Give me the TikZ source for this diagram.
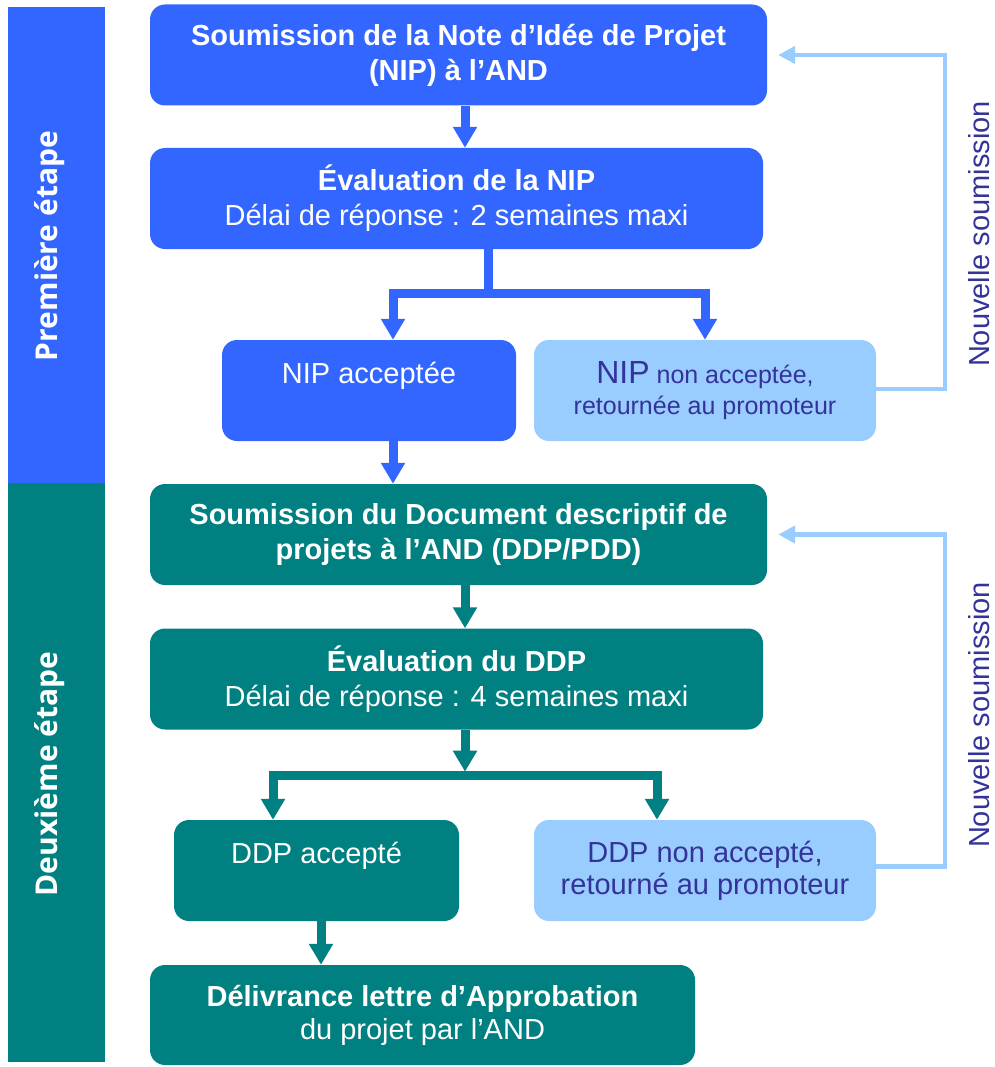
\documentclass[tikz,border=0pt]{standalone}
\usepackage{fontspec}
\setmainfont{Liberation Sans}
\newfontfamily\sidefont{Open Sans}
\usetikzlibrary{arrows.meta,calc}
\definecolor{cblue}{HTML}{3366FF}
\definecolor{cteal}{HTML}{008080}
\definecolor{clight}{HTML}{99CCFF}
\definecolor{cdark}{HTML}{333399}
\begin{document}
\begin{tikzpicture}[x=1pt,y=-1pt,
  box/.style={rounded corners=15pt, inner sep=0pt, align=center, text=white,
    font=\fontsize{29}{35}\selectfont, minimum height=101pt},
  bluebox/.style={box, fill=cblue},
  tealbox/.style={box, fill=cteal},
  lightbox/.style={box, fill=clight, text=cdark},
  band/.style={inner sep=0pt, minimum width=97pt},
  sidelabel/.style={rotate=90, text=white, font=\sidefont\bfseries\fontsize{30}{34}\selectfont},
  newsub/.style={rotate=90, text=cdark, font=\fontsize{29}{34}\selectfont},
  bline/.style={draw=cblue, line width=9pt, line join=miter},
  barrow/.style={bline, -{Triangle[width=23pt,length=21pt]}},
  tline/.style={draw=cteal, line width=9pt, line join=miter},
  tarrow/.style={tline, -{Triangle[width=23pt,length=21pt]}},
  fback/.style={draw=clight, line width=4.5pt, line join=miter, -{Triangle[width=17pt,length=17pt]}}
]
\useasboundingbox (0,0) rectangle (994,1067);

% side bands
\node[band, fill=cblue, minimum height=476pt] (sb1) at (56.5,245) {};
\node[band, fill=cteal, minimum height=579pt] (sb2) at (56.5,772.5) {};
\node[sidelabel] (l1) at (50,246) {Première étape};
\node[sidelabel] (l2) at (50,774) {Deuxième étape};

% first stage
\node[bluebox, minimum width=617pt] (b1) at (458.5,55)
  {\textbf{Soumission de la Note d’Idée de Projet}\\\textbf{(NIP) à l’AND}};
\node[bluebox, minimum width=613pt] (e2) at (456.5,198.5)
  {\textbf{Évaluation de la NIP}\\Délai de réponse : 2 semaines maxi};
\node[bluebox, minimum width=294pt] (n3) at (369,390.5)
  {NIP acceptée\\~};
\node[lightbox, minimum width=342pt, font=\fontsize{25}{31}\selectfont] (n4) at (705,390.5)
  {{\fontsize{32}{31}\selectfont NIP} non acceptée,\\retournée au promoteur};

% second stage
\node[tealbox, minimum width=617pt] (b5) at (458.5,534.5)
  {\textbf{Soumission du Document descriptif de}\\\textbf{projets à l’AND (DDP/PDD)}};
\node[tealbox, minimum width=613pt] (e6) at (456.5,679)
  {\textbf{Évaluation du DDP}\\Délai de réponse : 4 semaines maxi};
\node[tealbox, minimum width=285pt] (d7) at (316.5,870.5)
  {DDP accepté\\~};
\node[lightbox, minimum width=342pt, font=\fontsize{29}{32}\selectfont] (d8) at (705,870.5)
  {DDP non accepté,\\retourné au promoteur};
\node[tealbox, minimum width=545pt, minimum height=100pt, font=\fontsize{29}{33}\selectfont] (b9) at (422.5,1015)
  {\textbf{Délivrance lettre d’Approbation}\\du projet par l’AND};

% labels on the right
\node[newsub] (ns1) at (979,234) {Nouvelle soumission};
\node[newsub] (ns2) at (979,715) {Nouvelle soumission};

% first stage connectors
\draw[barrow] ([xshift=6.5pt]b1.south) -- ([xshift=8.5pt]e2.north);
\coordinate (j1) at ([xshift=31.5pt,yshift=-44pt]e2.south);
\draw[bline] ([xshift=31.5pt]e2.south) -- ([yshift=-4pt]j1);
\draw[barrow] (j1) -| ([xshift=24pt]n3.north);
\draw[barrow] (j1) -| (n4.north);
\draw[barrow] ([xshift=24pt]n3.south) -- ([xshift=24pt]n3.south |- b5.north);
\draw[fback] ([yshift=1.5pt]n4.east) -- ++(69,0) |- ([xshift=11pt]b1.east);

% second stage connectors
\draw[tarrow] ([xshift=6.5pt]b5.south) -- ([xshift=8.5pt]e6.north);
\coordinate (j2) at ([xshift=8.5pt,yshift=-42pt]e6.south);
\draw[tarrow] ([xshift=8.5pt]e6.south) -- (j2);
\coordinate (j3) at ([yshift=-4pt]j2);
\draw[tarrow] (j3) -| ([xshift=-43.5pt]d7.north);
\draw[tarrow] (j3) -| ([xshift=-48pt]d8.north);
\draw[tarrow] ([xshift=4.5pt]d7.south) -- ([xshift=4.5pt]d7.south |- b9.north);
\draw[fback] ([yshift=4pt]d8.east) -- ++(69,0) |- ([xshift=11pt]b5.east);
\end{tikzpicture}
\end{document}
